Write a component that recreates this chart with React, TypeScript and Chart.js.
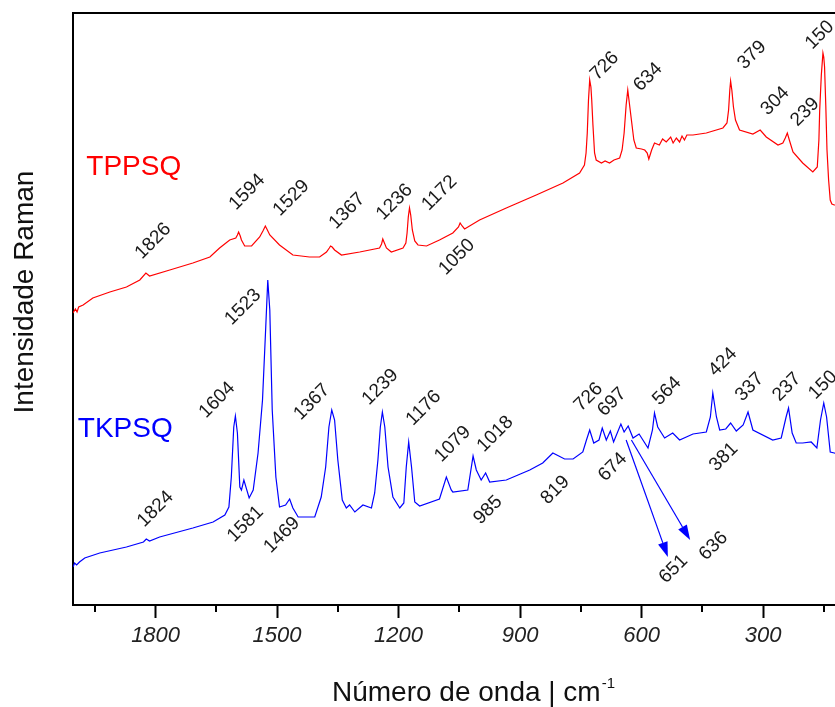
import React, { useEffect, useRef } from "react";
import { Chart, registerables } from "chart.js";
Chart.register(...registerables);

// ---- Data (wavenumber in cm-1, intensity in arbitrary units) ----
const redWavenumbers = [2004, 1998, 1994, 1990, 1979, 1955, 1913, 1872, 1839, 1824, 1815, 1765, 1708, 1666, 1642, 1617, 1602, 1598, 1595, 1591, 1588, 1580, 1563, 1543, 1535, 1529, 1524, 1518, 1494, 1461, 1420, 1395, 1378, 1371, 1368, 1364, 1358, 1341, 1296, 1247, 1242, 1239, 1235, 1230, 1218, 1189, 1182, 1179, 1176, 1173, 1170, 1166, 1160, 1152, 1131, 1099, 1066, 1052, 1048, 1043, 1037, 1000, 934, 860, 794, 753, 741, 737, 734, 731, 728, 725, 723, 720, 716, 712, 699, 690, 679, 668, 654, 648, 643, 638, 634, 631, 625, 619, 613, 600, 592, 586, 582, 575, 568, 556, 548, 539, 528, 522, 514, 506, 500, 494, 488, 473, 440, 399, 389, 385, 382, 380, 377, 373, 368, 358, 325, 307, 292, 263, 251, 245, 240, 235, 226, 202, 177, 166, 162, 160, 156, 152, 150, 148, 145, 142, 138, 134, 130, 124, 110];
const redIntensity = [292, 296, 293, 298, 300, 307, 313, 318, 325, 332, 329, 335, 342, 348, 357, 365, 367, 370, 373, 369, 365, 359, 359, 368, 374, 379, 375, 370, 360, 350, 348, 348, 353, 357, 359, 358, 355, 350, 353, 357, 361, 366, 362, 357, 353, 357, 362, 372, 388, 397, 390, 375, 364, 360, 359, 365, 372, 378, 382, 379, 376, 385, 397, 410, 422, 432, 440, 452, 472, 505, 525, 518, 505, 480, 452, 445, 442, 444, 442, 445, 447, 455, 472, 500, 515, 505, 485, 465, 457, 456, 455, 452, 446, 455, 462, 460, 466, 463, 468, 462, 467, 463, 469, 465, 470, 470, 472, 477, 482, 495, 515, 524, 515, 498, 485, 475, 471, 475, 468, 460, 462, 467, 472, 465, 453, 442, 433, 438, 465, 495, 530, 552, 548, 538, 500, 455, 425, 405, 401, 400, 400];

const blueWavenumbers = [2004, 2000, 1995, 1988, 1975, 1938, 1872, 1830, 1823, 1815, 1790, 1708, 1658, 1629, 1619, 1613, 1607, 1603, 1598, 1592, 1588, 1582, 1569, 1559, 1547, 1536, 1528, 1523, 1518, 1512, 1503, 1494, 1479, 1469, 1461, 1448, 1407, 1391, 1380, 1372, 1365, 1358, 1350, 1339, 1329, 1321, 1308, 1288, 1267, 1259, 1251, 1245, 1240, 1234, 1226, 1214, 1197, 1187, 1181, 1175, 1168, 1160, 1148, 1099, 1082, 1070, 1066, 1029, 1016, 1008, 996, 985, 975, 934, 876, 844, 819, 790, 769, 745, 736, 728, 718, 705, 697, 687, 677, 669, 651, 643, 633, 621, 606, 584, 573, 568, 560, 543, 523, 506, 473, 440, 430, 424, 415, 407, 392, 380, 366, 349, 337, 325, 276, 255, 243, 237, 228, 218, 202, 181, 167, 158, 150, 143, 134, 124, 110];
const blueIntensity = [38, 42, 40, 43, 47, 52, 58, 63, 66, 64, 68, 77, 83, 90, 98, 128, 178, 189, 172, 118, 115, 125, 107, 115, 152, 205, 278, 325, 295, 195, 128, 98, 100, 106, 97, 88, 88, 108, 138, 178, 195, 185, 145, 105, 97, 100, 93, 100, 97, 112, 145, 178, 193, 178, 138, 108, 97, 102, 138, 163, 138, 103, 99, 106, 128, 115, 113, 115, 149, 135, 125, 132, 123, 125, 135, 142, 152, 146, 146, 153, 165, 175, 162, 165, 177, 165, 174, 163, 181, 173, 179, 167, 171, 157, 175, 192, 178, 167, 172, 165, 171, 173, 188, 212, 188, 175, 176, 182, 174, 180, 193, 175, 165, 167, 188, 197, 172, 162, 162, 163, 157, 185, 202, 188, 153, 152, 150];

const xMajorTicks = [1800, 1500, 1200, 900, 600, 300];
const xMinorTicks = [1950, 1650, 1350, 1050, 750, 450, 150];

// Peak annotations: text, anchor wavenumber, anchor intensity
const redPeakText = ["1826", "1594", "1529", "1367", "1236", "1172", "1050", "726", "634", "379", "304", "239", "150"];
const redPeakX = [1806, 1574, 1465, 1327, 1210, 1099, 1056, 691, 584, 327, 270, 196, 160];
const redPeakY = [364, 413, 407, 394, 403, 412, 348, 539, 528, 550, 504, 493, 570];

const bluePeakText = ["1824", "1604", "1523", "1581", "1469", "1367", "1239", "1176", "1079", "1018", "985", "819", "726", "697", "674", "564", "424", "337", "381", "237", "150", "651", "636"];
const bluePeakX = [1800, 1648, 1584, 1578, 1488, 1414, 1245, 1138, 1066, 961, 979, 813, 731, 673, 671, 537, 399, 333, 397, 241, 152, 521, 422];
const bluePeakY = [96, 205, 298, 81, 70, 203, 218, 197, 161, 171, 95, 115, 208, 203, 138, 214, 243, 218, 148, 218, 220, 36, 59];

// Arrows (from wavenumber/intensity to wavenumber/intensity)
const arrowFromX = [638, 625];
const arrowFromY = [165, 165];
const arrowToX = [535, 480];
const arrowToY = [48, 65];

const seriesNames = ["TPPSQ", "TKPSQ"];
const seriesNameX = [1854, 1875];
const seriesNameY = [438, 176];

const xTitle = "Número de onda | cm";
const xTitleSup = "-1";
const yTitle = "Intensidade Raman";

const RED = "#ff0000";
const BLUE = "#0000ff";
const FONT = "'Liberation Sans', Arial, sans-serif";

const overlayPlugin = {
  id: "overlay",
  afterDraw(chart: any) {
    const { ctx, chartArea, scales } = chart;
    const xs = scales.x;
    const ys = scales.y;
    ctx.save();
    // top frame line
    ctx.strokeStyle = "#000";
    ctx.lineWidth = 2;
    ctx.beginPath();
    ctx.moveTo(chartArea.left - 1, chartArea.top);
    ctx.lineTo(chartArea.right, chartArea.top);
    ctx.stroke();
    // minor ticks
    for (const v of xMinorTicks) {
      const px = Math.round(xs.getPixelForValue(v));
      ctx.beginPath();
      ctx.moveTo(px, chartArea.bottom);
      ctx.lineTo(px, chartArea.bottom + 7);
      ctx.stroke();
    }
    // peak labels
    ctx.font = `19px ${FONT}`;
    ctx.fillStyle = "#1a1a1a";
    ctx.textAlign = "center";
    ctx.textBaseline = "middle";
    const drawLabels = (t: string[], xv: number[], yv: number[]) => {
      t.forEach((s, i) => {
        const px = xs.getPixelForValue(xv[i]);
        const py = ys.getPixelForValue(yv[i]);
        ctx.save();
        ctx.translate(px, py);
        ctx.rotate(-Math.PI / 4);
        ctx.fillText(s, 0, 0);
        ctx.restore();
      });
    };
    drawLabels(redPeakText, redPeakX, redPeakY);
    drawLabels(bluePeakText, bluePeakX, bluePeakY);
    // arrows
    ctx.strokeStyle = BLUE;
    ctx.fillStyle = BLUE;
    ctx.lineWidth = 1.2;
    for (let i = 0; i < arrowFromX.length; i++) {
      const x1 = xs.getPixelForValue(arrowFromX[i]);
      const y1 = ys.getPixelForValue(arrowFromY[i]);
      const x2 = xs.getPixelForValue(arrowToX[i]);
      const y2 = ys.getPixelForValue(arrowToY[i]);
      const ang = Math.atan2(y2 - y1, x2 - x1);
      const hl = 15;
      const hw = 5;
      const bx = x2 - hl * Math.cos(ang);
      const by = y2 - hl * Math.sin(ang);
      ctx.beginPath();
      ctx.moveTo(x1, y1);
      ctx.lineTo(bx, by);
      ctx.stroke();
      ctx.beginPath();
      ctx.moveTo(x2, y2);
      ctx.lineTo(bx + hw * Math.sin(ang), by - hw * Math.cos(ang));
      ctx.lineTo(bx - hw * Math.sin(ang), by + hw * Math.cos(ang));
      ctx.closePath();
      ctx.fill();
    }
    // series names
    ctx.font = `28px ${FONT}`;
    ctx.textAlign = "center";
    ctx.textBaseline = "middle";
    [RED, BLUE].forEach((c, i) => {
      ctx.fillStyle = c;
      ctx.fillText(seriesNames[i], xs.getPixelForValue(seriesNameX[i]), ys.getPixelForValue(seriesNameY[i]));
    });
    // x title with superscript
    ctx.fillStyle = "#111";
    ctx.textBaseline = "alphabetic";
    ctx.textAlign = "left";
    ctx.font = `28px ${FONT}`;
    const w1 = ctx.measureText(xTitle).width;
    ctx.font = `15px ${FONT}`;
    const w2 = ctx.measureText(xTitleSup).width;
    const startX = 473 - (w1 + w2) / 2;
    ctx.font = `28px ${FONT}`;
    ctx.fillText(xTitle, startX, 701);
    ctx.font = `15px ${FONT}`;
    ctx.fillText(xTitleSup, startX + w1 + 1, 688);
    // y title
    ctx.save();
    ctx.translate(25, 292);
    ctx.rotate(-Math.PI / 2);
    ctx.font = `28px ${FONT}`;
    ctx.textAlign = "center";
    ctx.textBaseline = "middle";
    ctx.fillText(yTitle, 0, 0);
    ctx.restore();
    ctx.restore();
  },
};

export default function App() {
  const ref = useRef<HTMLCanvasElement | null>(null);
  useEffect(() => {
    if (!ref.current) return;
    const redData = redWavenumbers.map((x, i) => ({ x, y: redIntensity[i] }));
    const blueData = blueWavenumbers.map((x, i) => ({ x, y: blueIntensity[i] }));
    const chart = new Chart(ref.current, {
      type: "line",
      data: {
        datasets: [
          { label: "TPPSQ", data: redData, borderColor: RED, borderWidth: 1.2, pointRadius: 0, tension: 0, fill: false },
          { label: "TKPSQ", data: blueData, borderColor: BLUE, borderWidth: 1.2, pointRadius: 0, tension: 0, fill: false },
        ],
      },
      options: {
        animation: false,
        responsive: true,
        maintainAspectRatio: false,
        devicePixelRatio: 1,
        layout: { padding: { left: 0, top: 13, right: 56, bottom: 0 } },
        plugins: { legend: { display: false }, tooltip: { enabled: false } },
        scales: {
          x: {
            type: "linear",
            min: 100,
            max: 2004,
            reverse: true,
            afterBuildTicks: (s: any) => {
              s.ticks = xMajorTicks.map((v) => ({ value: v }));
            },
            afterFit: (s: any) => {
              s.height = 102;
            },
            ticks: {
              autoSkip: false,
              maxRotation: 0,
              padding: 5,
              color: "#222",
              font: { family: FONT, size: 22, style: "italic" },
              callback: (v: any) => String(v),
            },
            grid: {
              display: true,
              drawOnChartArea: false,
              drawTicks: true,
              tickLength: 13,
              tickWidth: 2,
              tickColor: "#000",
              color: "#000",
            },
            border: { display: true, width: 2, color: "#000" },
          },
          y: {
            type: "linear",
            min: 0,
            max: 592,
            afterFit: (s: any) => {
              s.width = 73;
            },
            ticks: { display: false },
            grid: { display: false, drawTicks: false },
            border: { display: true, width: 2, color: "#000" },
          },
        },
      },
      plugins: [overlayPlugin],
    });
    return () => chart.destroy();
  }, []);
  return (
    <div style={{ position: "absolute", left: 0, top: 0, width: 835, height: 707, overflow: "hidden", background: "#fff" }}>
      <div style={{ position: "absolute", left: 0, top: 0, width: 900, height: 707 }}>
        <canvas ref={ref} />
      </div>
    </div>
  );
}
